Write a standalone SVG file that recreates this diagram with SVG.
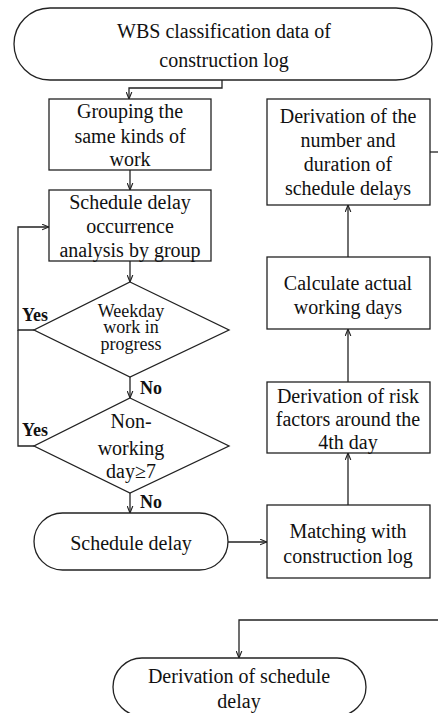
<svg xmlns="http://www.w3.org/2000/svg" width="438" height="713" viewBox="0 0 438 713">
<style>
.s{fill:#fff;stroke:#222;stroke-width:1.3}
.c{fill:none;stroke:#222;stroke-width:1.3}
text{font-family:"Liberation Serif","Times New Roman",serif;font-size:20px;fill:#111;text-anchor:middle}
.d{font-size:18px}
.b{font-weight:bold;font-size:18px;text-anchor:start}
</style>
<defs>
<marker id="a" viewBox="0 0 10 10" refX="10" refY="5" markerWidth="7" markerHeight="7" markerUnits="userSpaceOnUse" orient="auto">
<path d="M0,1 L10,5 L0,9" fill="none" stroke="#222" stroke-width="1.6"/>
</marker>
</defs>
<rect width="438" height="713" fill="#fff"/>
<g id="connectors">
<path class="c" d="M222,80 V88 H129 V99" marker-end="url(#a)"/>
<path class="c" d="M130,170 V190" marker-end="url(#a)"/>
<path class="c" d="M130,261 V282" marker-end="url(#a)"/>
<path class="c" d="M130,377 V398" marker-end="url(#a)"/>
<path class="c" d="M130,493 V513" marker-end="url(#a)"/>
<path class="c" d="M34,330 H18 V227 H49" marker-end="url(#a)"/>
<path class="c" d="M34,446 H18 V330"/>
<path class="c" d="M228,542 H267" marker-end="url(#a)"/>
<path class="c" d="M348,505 V453" marker-end="url(#a)"/>
<path class="c" d="M348,382 V329" marker-end="url(#a)"/>
<path class="c" d="M348,257 V205" marker-end="url(#a)"/>
<path class="c" d="M430,152 H438"/>
<path class="c" d="M438,620 H239 V658" marker-end="url(#a)"/>
<text class="b" x="22" y="321">Yes</text>
<text class="b" x="140" y="394">No</text>
<text class="b" x="22" y="436">Yes</text>
<text class="b" x="140" y="508">No</text>
</g>
<g id="start">
<rect class="s" x="14" y="8" width="418" height="72" rx="36"/>
<text x="224" y="38">WBS classification data of</text>
<text x="224" y="67">construction log</text>
</g>
<g id="grouping">
<rect class="s" x="49" y="99" width="162" height="71"/>
<text x="130" y="118">Grouping the</text>
<text x="130" y="143">same kinds of</text>
<text x="130" y="166">work</text>
</g>
<g id="analysis">
<rect class="s" x="49" y="190" width="162" height="71"/>
<text x="130" y="209">Schedule delay</text>
<text x="130" y="233">occurrence</text>
<text x="130" y="257">analysis by group</text>
</g>
<g id="weekday">
<polygon class="s" points="130,282 229,330 130,377 34,330"/>
<text class="d" x="131" y="317">Weekday</text>
<text class="d" x="131" y="333">work in</text>
<text class="d" x="131" y="350">progress</text>
</g>
<g id="nonworking">
<polygon class="s" points="130,398 229,446 130,493 34,446"/>
<text x="131" y="428">Non-</text>
<text x="131" y="455">working</text>
<text x="131" y="478">day≥7</text>
</g>
<g id="scheduledelay">
<rect class="s" x="34" y="513" width="194" height="57" rx="28.5"/>
<text x="131" y="550">Schedule delay</text>
</g>
<g id="matching">
<rect class="s" x="267" y="505" width="163" height="73"/>
<text x="348" y="538">Matching with</text>
<text x="348" y="563">construction log</text>
</g>
<g id="risk">
<rect class="s" x="267" y="382" width="163" height="71"/>
<text x="348" y="403">Derivation of risk</text>
<text x="348" y="426">factors around the</text>
<text x="348" y="449">4th day</text>
</g>
<g id="calc">
<rect class="s" x="267" y="257" width="163" height="72"/>
<text x="348" y="290">Calculate actual</text>
<text x="348" y="314">working days</text>
</g>
<g id="derivation">
<rect class="s" x="267" y="99" width="163" height="106"/>
<text x="348" y="123">Derivation of the</text>
<text x="348" y="147">number and</text>
<text x="348" y="171">duration of</text>
<text x="348" y="195">schedule delays</text>
</g>
<g id="end">
<rect class="s" x="113" y="658" width="253" height="58" rx="29"/>
<text x="239" y="683">Derivation of schedule</text>
<text x="239" y="708">delay</text>
</g>
</svg>
